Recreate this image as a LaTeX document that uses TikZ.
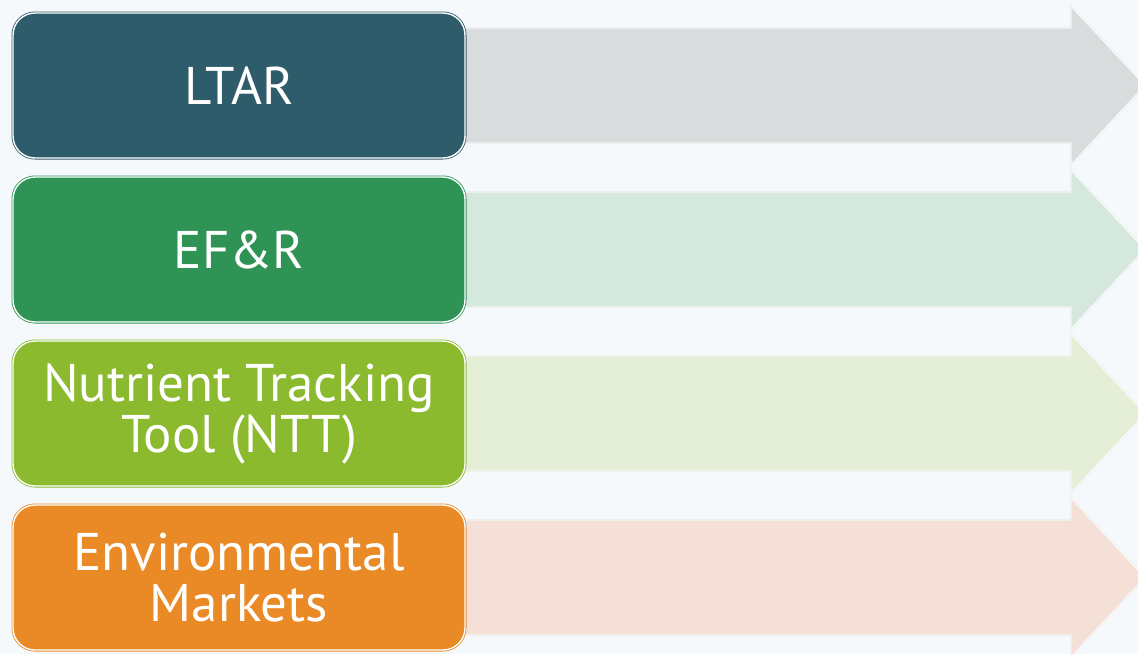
\documentclass[tikz,border=0pt]{standalone}
\usepackage{fontspec}
\setmainfont{PT Sans}
\usepackage{tikz}
\usetikzlibrary{positioning,backgrounds}

\definecolor{pagebg}{RGB}{245,249,252}
\definecolor{ltarfill}{RGB}{46,92,107}
\definecolor{efrfill}{RGB}{46,147,85}
\definecolor{nttfill}{RGB}{139,186,47}
\definecolor{mktfill}{RGB}{233,138,38}
\definecolor{ltarband}{RGB}{216,220,220}
\definecolor{efrband}{RGB}{213,232,221}
\definecolor{nttband}{RGB}{229,238,215}
\definecolor{mktband}{RGB}{245,224,216}

\begin{document}
\begin{tikzpicture}[
  x=1pt, y=1pt,
  node distance=19pt,
  box/.style={draw=#1, double=white, line width=0.8pt, double distance=1.4pt,
    fill=#1, rounded corners=22pt, align=center, text=white, outer sep=0pt,
    minimum width=452pt, minimum height=145pt,
    font=\fontsize{53}{51}\selectfont},
  band/.style={draw=#1!85!black!40!white, double=white, line width=0.5pt,
    double distance=0.9pt, fill=#1}
]
\useasboundingbox (0,0) rectangle (1138,-654);
\begin{pgfonlayer}{background}
  \fill[pagebg] (0,0) rectangle (1138,-654);
\end{pgfonlayer}

\node[box=ltarfill, anchor=north west] (ltar) at (13,-13) {LTAR};
\node[box=efrfill, below=of ltar] (efr) {EF\&R};
\node[box=nttfill, below=of efr] (ntt) {Nutrient Tracking\\Tool (NTT)};
\node[box=mktfill, below=of ntt] (mkt) {Environmental\\Markets};

% wide arrows running out behind each box
\begin{pgfonlayer}{background}
\foreach \n in {ltar, efr, ntt, mkt} {
  \draw[band=\n band] ([xshift=-20pt, yshift=57.5pt]\n.east) -- ++(626,0)
    -- ++(0,22) -- ++(74,-79.5) -- ++(-74,-79.5) -- ++(0,22)
    -- ++(-626,0) -- cycle;
}
\end{pgfonlayer}
\end{tikzpicture}
\end{document}
